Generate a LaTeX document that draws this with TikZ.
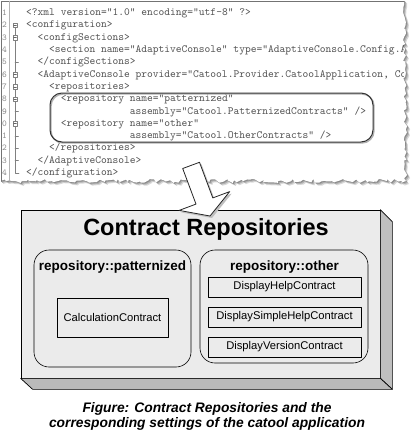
\documentclass[tikz,border=0pt]{standalone}
\usepackage{fontspec}
\setmainfont{Liberation Sans}
\usetikzlibrary{decorations.pathmorphing}

\tikzset{
  codeline/.style={anchor=mid west, inner sep=0pt, font=\ttfamily\fontsize{10.97}{12}\selectfont, text=black!68},
  linenum/.style={anchor=mid west, inner sep=0pt, font=\ttfamily\fontsize{9}{10}\selectfont, text=black!45},
  foldbox/.style={draw=black!50, fill=white, minimum size=4.5pt, inner sep=0pt},
  contract/.style={draw, line width=0.5pt, inner sep=0pt, font=\fontsize{11.2}{13}\selectfont},
  repobox/.style={draw, line width=0.6pt, rounded corners=15pt, inner sep=0pt},
  repotitle/.style={inner sep=0pt, font=\fontsize{13.5}{16}\bfseries\selectfont},
  torn/.style={decoration={random steps, segment length=3pt, amplitude=2pt}}
}

\begin{document}
\begin{tikzpicture}[line cap=round,line join=round,x=1pt,y=-1pt]
\useasboundingbox (0,0) rectangle (415,437);

% torn screenshot of the config file
\foreach \s/\c in {3/15,2/30,1/45} {
  \pgfmathsetseed{11}
  \fill[black!\c, shift={(\s,\s)}] (0,0) -- (404,0) decorate[torn] {-- (406,181) -- (0,181)} -- cycle;
}
\pgfmathsetseed{11}
\fill[white] (0,0) -- (404,0) decorate[torn] {-- (406,181) -- (0,181)} -- cycle;
\draw[black!55, line width=0.6pt] (404,1) -- (1,1) -- (1,181);
\draw[black!30, line width=0.5pt] (9,1) -- (9,181);

\begin{scope}
\clip (0,0) rectangle (403,180);
\foreach \n/\d in {1/1,2/2,3/3,4/4,5/5,6/6,7/7,8/8,9/9,10/0,11/1,12/2,13/3,14/4}
  \node[linenum] (num\n) at (2,{13+12.3*(\n-1)}) {\d};
\node[codeline] (l1) at (26,13) {<?xml version="1.0" encoding="utf-8" ?>};
\node[codeline] (l2) at (26,25.3) {<configuration>};
\node[codeline] (l3) at (37.5,37.6) {<configSections>};
\node[codeline] (l4) at (49,49.9) {<section name="AdaptiveConsole" type="AdaptiveConsole.Config.Ad};
\node[codeline] (l5) at (37.5,62.2) {</configSections>};
\node[codeline] (l6) at (37.5,74.5) {<AdaptiveConsole provider="Catool.Provider.CatoolApplication, Co};
\node[codeline] (l7) at (49,86.8) {<repositories>};
\node[codeline] (l8) at (60.6,99.1) {<repository name="patternized"};
\node[codeline] (l9) at (129.7,111.4) {assembly="Catool.PatternizedContracts" />};
\node[codeline] (l10) at (60.6,123.7) {<repository name="other"};
\node[codeline] (l11) at (129.7,136) {assembly="Catool.OtherContracts" />};
\node[codeline] (l12) at (49,148.3) {</repositories>};
\node[codeline] (l13) at (37.5,160.6) {</AdaptiveConsole>};
\node[codeline] (l14) at (26,172.9) {</configuration>};
\end{scope}

% folding marks
\draw[black!50, line width=0.5pt] (15,25.3) -- (15,172.9) -- (19,172.9);
\foreach \y in {62.2,111.4,136,148.3,160.6}
  \draw[black!50, line width=0.5pt] (15,\y) -- (18.5,\y);
\foreach \n/\y in {2/25.3,3/37.6,6/74.5,7/86.8,8/99.1,10/123.7} {
  \node[foldbox] (fold\n) at (15,\y) {};
  \draw[black!60, line width=0.5pt] ([xshift=1pt]fold\n.west) -- ([xshift=-1pt]fold\n.east);
}

% highlight of the repository entries
\node[draw=black!30, line width=1.4pt, rounded corners=12pt, minimum width=323pt, minimum height=49pt] at (212.5,118.5) {};
\node[draw=black!80, line width=1pt, rounded corners=12pt, minimum width=323pt, minimum height=49pt] (marked) at (211.5,117.5) {};

% the contract repositories block
\node[draw, line width=0.7pt, fill=black!8, minimum width=359pt, minimum height=168pt, inner sep=0pt] (face) at (200.5,294) {};
\draw[line width=0.7pt, fill=black!25] (face.north east) -- ([shift={(12,12)}]face.north east) -- ([shift={(12,11)}]face.south east) -- (face.south east) -- cycle;
\draw[line width=0.7pt, fill=black!27] (face.south west) -- (face.south east) -- ([shift={(12,11)}]face.south east) -- ([shift={(12,11)}]face.south west) -- cycle;

\node[inner sep=0pt, font=\fontsize{23.5}{28}\bfseries\selectfont] (title) at (206,229) {Contract Repositories};

\node[repobox, minimum width=157pt, minimum height=117pt] (patt) at (112.5,308.5) {};
\node[repobox, minimum width=168pt, minimum height=113pt] (other) at (284,306.5) {};
\node[repotitle] (patttitle) at (112.5,267) {repository::patternized};
\node[repotitle] (othertitle) at (284.5,267) {repository::other};

\node[contract, minimum width=111pt, minimum height=39pt] (calc) at (112.5,317.5) {CalculationContract};
\node[contract, minimum width=153pt, minimum height=20pt] (help) at (284.5,287) {DisplayHelpContract};
\node[contract, minimum width=153pt, minimum height=20pt] (simple) at (284.5,317) {DisplaySimpleHelpContract};
\node[contract, minimum width=153pt, minimum height=20pt] (version) at (284.5,347) {DisplayVersionContract};

% big arrow from the file to the block
\fill[black!25, shift={(2,2)}] (182.7,168.5) -- (199.5,162.3) -- (212.8,197.9) -- (229.7,191.6) -- (210,216) -- (179.1,210.4) -- (196,204.1) -- cycle;
\draw[line width=0.8pt, black!85, fill=white] (182.7,168.5) -- (199.5,162.3) -- (212.8,197.9) -- (229.7,191.6) -- (210,216) -- (179.1,210.4) -- (196,204.1) -- cycle;

\node[align=center, inner sep=0pt, font=\fontsize{13.8}{15.5}\bfseries\itshape\selectfont] (caption) at (207,416.5) {Figure: Contract Repositories and the\\corresponding settings of the catool application};
\end{tikzpicture}
\end{document}
